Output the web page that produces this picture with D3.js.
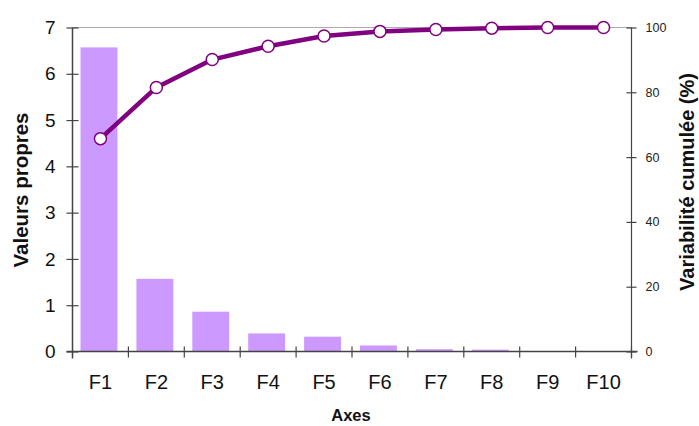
<!DOCTYPE html>
<html><head><meta charset="utf-8">
<script src="https://cdn.jsdelivr.net/npm/d3@7"></script>
<style>body{margin:0;background:#fff}svg{display:block}text{font-family:Arial,"Liberation Sans",sans-serif}</style>
</head><body>
<script>
const categories = ["F1","F2","F3","F4","F5","F6","F7","F8","F9","F10"];
const eigenvalues = [6.57, 1.57, 0.86, 0.39, 0.32, 0.13, 0.05, 0.04, 0.01, 0.005];
const cumulative = [65.7, 81.5, 90.1, 94.2, 97.4, 98.8, 99.4, 99.8, 100, 100];
const leftTicks = [0,1,2,3,4,5,6,7];
const rightTicks = [0,20,40,60,80,100];

const W = 699, H = 426;
const m = {left:72.5, right:W-631.5, top:27.5, bottom:H-351.5};
const svg = d3.select("body").append("svg").attr("width",W).attr("height",H);

const x = d3.scaleBand().domain(categories).range([m.left, W-m.right]).paddingInner(0.34).paddingOuter(0.17);
const xb = d3.scaleBand().domain(categories).range([m.left, W-m.right]);
const y = d3.scaleLinear().domain([0,7]).range([H-m.bottom, m.top]);
const y2 = d3.scaleLinear().domain([0,100]).range([H-m.bottom, m.top]);

// top border
svg.append("line").attr("x1",m.left).attr("x2",W-m.right).attr("y1",m.top).attr("y2",m.top).attr("stroke","#aaa").attr("stroke-width",1);

// bars
svg.append("g").selectAll("rect").data(eigenvalues).join("rect")
  .attr("x",(d,i)=>x(categories[i])-1.5).attr("width",x.bandwidth())
  .attr("y",d=>y(d)).attr("height",d=>y(0)-y(d)).attr("fill","#CC99FF");

// left axis
const gl = svg.append("g").attr("transform",`translate(${m.left},0)`);
gl.call(d3.axisLeft(y).tickValues(leftTicks).tickSize(6).tickPadding(11).tickFormat(d3.format("d")));
gl.select(".domain").attr("stroke","#444").attr("stroke-width",1.5).attr("d",`M0,${m.top}V${H-m.bottom+7}`);
gl.selectAll(".tick line").attr("x1",6).attr("x2",-6).attr("stroke","#444").attr("stroke-width",1.2);
gl.selectAll(".tick text").attr("font-size",19).attr("fill","#111");

// right axis
const gr = svg.append("g").attr("transform",`translate(${W-m.right},0)`);
gr.call(d3.axisRight(y2).tickValues(rightTicks).tickSize(5).tickPadding(9));
gr.select(".domain").attr("stroke","#444").attr("stroke-width",1.2).attr("d",`M0,${m.top}V${H-m.bottom+7}`);
gr.selectAll(".tick line").attr("x1",-5).attr("x2",5).attr("stroke","#444").attr("stroke-width",1.2);
gr.selectAll(".tick text").attr("font-size",12.5).attr("fill","#222");

// bottom axis
const gb = svg.append("g").attr("transform",`translate(0,${H-m.bottom})`);
gb.call(d3.axisBottom(xb).tickSize(0).tickPadding(23));
gb.select(".domain").attr("stroke","#444").attr("stroke-width",1.5).attr("d",`M${m.left-6},0H${W-m.right+6}`);
gb.selectAll(".tick text").attr("font-size",20).attr("fill","#111");
const bounds = categories.map(c=>xb(c)).concat([xb(categories[categories.length-1])+xb.bandwidth()]);
gb.selectAll(".btick").data(bounds.slice(1)).join("line").attr("class","btick")
  .attr("x1",d=>d).attr("x2",d=>d).attr("y1",-5).attr("y2",6).attr("stroke","#444").attr("stroke-width",1.2);

// line
const pts = cumulative.map((v,i)=>[xb(categories[i])+xb.bandwidth()/2, y2(v)]);
svg.append("path").attr("d",d3.line()(pts)).attr("fill","none").attr("stroke","#800080").attr("stroke-width",4.5).attr("stroke-linejoin","round");
svg.append("g").selectAll("circle").data(pts).join("circle")
  .attr("cx",d=>d[0]).attr("cy",d=>d[1]).attr("r",6).attr("fill","#fff").attr("stroke","#800080").attr("stroke-width",1.5);

// titles
svg.append("text").attr("transform",`translate(28,190) rotate(-90)`).attr("text-anchor","middle")
  .attr("font-size",20.5).attr("font-weight","bold").attr("fill","#111").text("Valeurs propres");
svg.append("text").attr("transform",`translate(694,182) rotate(-90)`).attr("text-anchor","middle")
  .attr("font-size",20).attr("font-weight","bold").attr("fill","#111").text("Variabilité cumulée (%)");
svg.append("text").attr("x",351).attr("y",421).attr("text-anchor","middle")
  .attr("font-size",16.5).attr("font-weight","bold").attr("fill","#111").text("Axes");
</script>
</body></html>
